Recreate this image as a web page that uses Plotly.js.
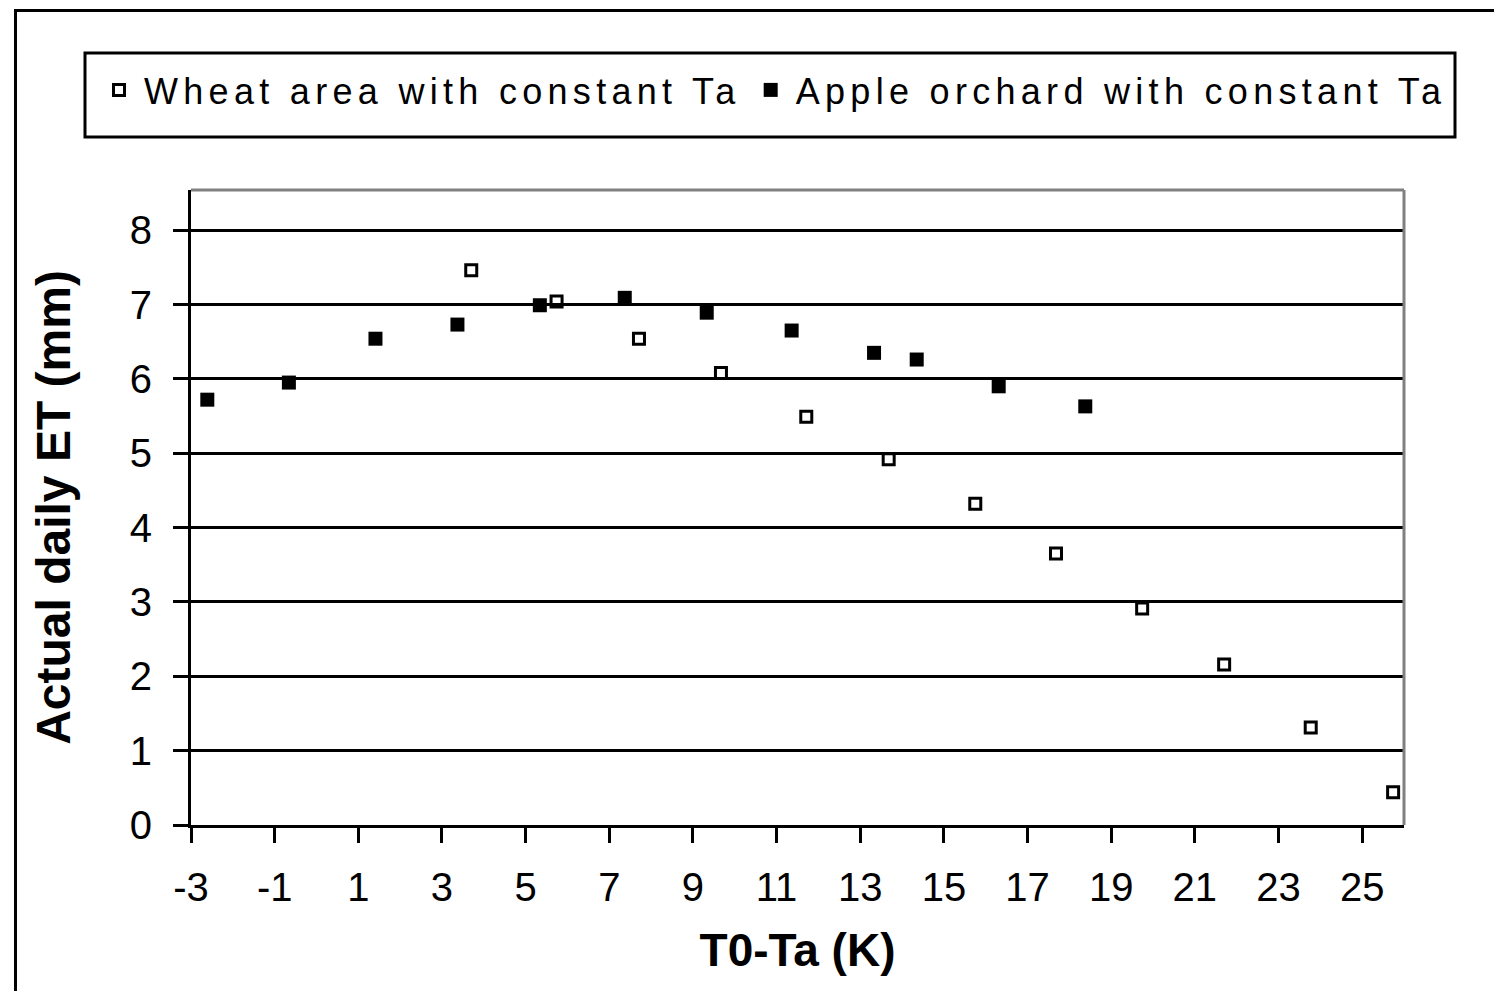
<!DOCTYPE html>
<html>
<head>
<meta charset="utf-8">
<script src="https://cdn.plot.ly/plotly-3.0.1.min.js"></script>
<style>
  html, body { margin: 0; padding: 0; background: #fff; }
  #chart { width: 1494px; height: 991px; }
  .legendtext { letter-spacing: 5.3px; }
</style>
</head>
<body>
<div id="chart"></div>
<script>
// Data
const wheatName = "Wheat area with constant Ta";
const wheatX = [3.70, 5.74, 7.71, 9.67, 11.71, 13.68, 15.75, 17.68, 19.74, 21.70, 23.77, 25.74];
const wheatY = [7.46, 7.04, 6.54, 6.08, 5.49, 4.92, 4.32, 3.65, 2.91, 2.16, 1.31, 0.44];

const appleName = "Apple orchard with constant Ta";
const appleX = [-2.61, -0.66, 1.41, 3.37, 5.34, 7.37, 9.33, 11.36, 13.33, 14.35, 16.31, 18.38];
const appleY = [5.72, 5.95, 6.54, 6.73, 6.99, 7.09, 6.89, 6.65, 6.35, 6.26, 5.90, 5.63];

// x tick values and labels (hyphen minus as in the original)
const xTickVals = [-3, -1, 1, 3, 5, 7, 9, 11, 13, 15, 17, 19, 21, 23, 25];
const xTickText = ["-3", "-1", "1", "3", "5", "7", "9", "11", "13", "15", "17", "19", "21", "23", "25"];

const xTitle = "T0-Ta (K)";
const yTitle = "Actual daily ET (mm)";

// pixel -> paper helpers for decorative frame lines
const L = 191, R = 1404, T = 190, B = 825;
const px = v => (v - L) / (R - L);
const py = v => (B - v) / (B - T);

const font = "Liberation Sans, Arial, sans-serif";

const traces = [
  {
    type: "scatter", mode: "markers", name: wheatName,
    x: wheatX, y: wheatY,
    marker: { symbol: "square-open", size: 11, color: "#000", line: { width: 3, color: "#000" } },
    cliponaxis: false
  },
  {
    type: "scatter", mode: "markers", name: appleName,
    x: appleX, y: appleY,
    marker: { symbol: "square", size: 14, color: "#000", line: { width: 0 } },
    cliponaxis: false
  }
];

const layout = {
  width: 1494, height: 991,
  margin: { l: L, r: 1494 - R, t: T, b: 991 - B },
  paper_bgcolor: "#fff", plot_bgcolor: "#fff",
  font: { family: font, color: "#000" },
  showlegend: true,
  legend: {
    orientation: "h",
    x: px(94), xanchor: "left",
    y: py(90), yanchor: "middle",
    bgcolor: "rgba(0,0,0,0)", borderwidth: 0,
    font: { family: font, size: 36, color: "#000" },
    itemwidth: 40
  },
  xaxis: {
    range: [-3, 26],
    tickmode: "array", tickvals: xTickVals, ticktext: xTickText,
    showgrid: false, zeroline: false,
    showline: true, linecolor: "#000", linewidth: 3,
    ticks: "outside", ticklen: 15, tickwidth: 3, tickcolor: "#000",
    tickfont: { family: font, size: 40, color: "#000" },
    ticklabelstandoff: 10,
    title: { text: xTitle, font: { family: font, size: 46, color: "#000", weight: "bold" }, standoff: 26 },
    automargin: false
  },
  yaxis: {
    range: [0, 8.54], tick0: 0, dtick: 1,
    showgrid: true, gridcolor: "#000", gridwidth: 3,
    zeroline: false,
    showline: true, linecolor: "#000", linewidth: 3,
    ticks: "outside", ticklen: 15, tickwidth: 3, tickcolor: "#000",
    tickfont: { family: font, size: 40, color: "#000" },
    ticklabelstandoff: 13,
    title: { text: yTitle, font: { family: font, size: 48, color: "#000", weight: "bold" }, standoff: 44 },
    automargin: false
  },
  shapes: [
    // plot-area frame (grey, top and right)
    { type: "line", xref: "paper", yref: "paper", x0: 0, x1: 1, y0: 1, y1: 1, line: { color: "#808080", width: 3 }, layer: "above" },
    { type: "line", xref: "paper", yref: "paper", x0: 1, x1: 1, y0: 0, y1: 1, line: { color: "#808080", width: 3 }, layer: "above" },
    // legend box
    { type: "rect", xref: "paper", yref: "paper", x0: px(85), x1: px(1455), y0: py(137), y1: py(53), line: { color: "#000", width: 3 }, fillcolor: "rgba(0,0,0,0)" },
    // outer chart frame (left and top edges visible)
    { type: "line", xref: "paper", yref: "paper", x0: px(15.5), x1: px(15.5), y0: py(9), y1: py(1000), line: { color: "#000", width: 3 } },
    { type: "line", xref: "paper", yref: "paper", x0: px(14), x1: px(1500), y0: py(10.5), y1: py(10.5), line: { color: "#000", width: 3 } }
  ]
};

Plotly.newPlot("chart", traces, layout, { staticPlot: true, displayModeBar: false });
</script>
</body>
</html>
